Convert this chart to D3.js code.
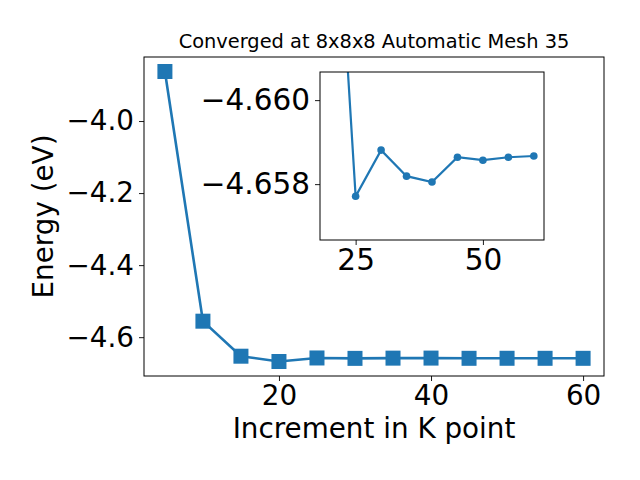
<!DOCTYPE html>
<html>
<head>
<meta charset="utf-8">
<script src="https://cdn.jsdelivr.net/npm/d3@7"></script>
<style>
  body { margin: 0; background: #fff; }
  text { font-family: "DejaVu Sans", sans-serif; fill: #000; }
</style>
</head>
<body>
<svg id="chart" width="640" height="480"></svg>
<script>
// k-point increments and total energies (eV)
const kPoints = [5, 10, 15, 20, 25, 30, 35, 40, 45, 50, 55, 60];
const energies = [-3.8625, -4.5556, -4.6528, -4.6675, -4.65771, -4.65881,
                  -4.65819, -4.65805, -4.65864, -4.65857, -4.65864, -4.65867];
const xTicks = [20, 40, 60];
const yTicks = [-4.6, -4.4, -4.2, -4.0];
const insetXTicks = [25, 50];
const insetYTicks = [-4.660, -4.658];

const color = '#1f77b4';
const tickFont = '27.8px';
const insetFont = '29.5px';
const minus = s => s.replace('-', '\u2212');

const svg = d3.select('#chart');

// main axes
const m = { left: 144, right: 604, top: 57, bottom: 376 };
const x = d3.scaleLinear().domain([2.25, 62.75]).range([m.left, m.right]);
const y = d3.scaleLinear().domain([-4.70775, -3.82225]).range([m.bottom, m.top]);

svg.append('text')
    .attr('x', (m.left + m.right) / 2)
    .attr('y', 47.5)
    .attr('text-anchor', 'middle')
    .style('font-size', '19.4px')
    .text('Converged at 8x8x8 Automatic Mesh 35');

const line = d3.line().x(d => x(d[0])).y(d => y(d[1]));
const pts = kPoints.map((k, i) => [k, energies[i]]);

svg.append('path')
    .datum(pts)
    .attr('d', line)
    .attr('fill', 'none')
    .attr('stroke', color)
    .attr('stroke-width', 2.6);

svg.append('g').selectAll('rect')
    .data(pts)
    .enter()
    .append('rect')
    .attr('x', d => x(d[0]) - 7.5)
    .attr('y', d => y(d[1]) - 7.5)
    .attr('width', 15)
    .attr('height', 15)
    .attr('fill', color);

svg.append('rect')
    .attr('x', m.left).attr('y', m.top)
    .attr('width', m.right - m.left).attr('height', m.bottom - m.top)
    .attr('fill', 'none').attr('stroke', '#000').attr('stroke-width', 1);

const xAxis = svg.append('g')
    .attr('transform', `translate(0,${m.bottom})`)
    .call(d3.axisBottom(x).tickValues(xTicks).tickSize(5).tickPadding(4).tickFormat(d3.format('d')));
const yAxis = svg.append('g')
    .attr('transform', `translate(${m.left},0)`)
    .call(d3.axisLeft(y).tickValues(yTicks).tickSize(5).tickPadding(5).tickFormat(d => minus(d3.format('.1f')(d))));

[xAxis, yAxis].forEach(g => {
    g.select('.domain').remove();
    g.selectAll('line').attr('stroke', '#000').attr('stroke-width', 0.9);
    g.selectAll('text').style('font-size', tickFont).style('font-family', '"DejaVu Sans", sans-serif').attr('fill', '#000');
});

svg.append('text')
    .attr('x', (m.left + m.right) / 2)
    .attr('y', 438)
    .attr('text-anchor', 'middle')
    .style('font-size', '27.8px')
    .text('Increment in K point');

svg.append('text')
    .attr('transform', `translate(52.5,${(m.top + m.bottom) / 2}) rotate(-90)`)
    .attr('text-anchor', 'middle')
    .style('font-size', '27.8px')
    .text('Energy (eV)');

// inset (y axis inverted)
const n = { left: 320, right: 544, top: 72, bottom: 240 };
const ix = d3.scaleLinear().domain([18, 62]).range([n.left, n.right]);
const iy = d3.scaleLinear().domain([-4.66067, -4.65667]).range([n.top, n.bottom]);
const insetPts = pts.filter(d => d[0] >= 20);

svg.append('rect')
    .attr('x', n.left).attr('y', n.top)
    .attr('width', n.right - n.left).attr('height', n.bottom - n.top)
    .attr('fill', '#fff');

svg.append('clipPath').attr('id', 'insetClip')
    .append('rect')
    .attr('x', n.left).attr('y', n.top)
    .attr('width', n.right - n.left).attr('height', n.bottom - n.top);

const inset = svg.append('g').attr('clip-path', 'url(#insetClip)');

inset.append('path')
    .datum(insetPts)
    .attr('d', d3.line().x(d => ix(d[0])).y(d => iy(d[1])))
    .attr('fill', 'none')
    .attr('stroke', color)
    .attr('stroke-width', 2.2);

inset.selectAll('circle')
    .data(insetPts)
    .enter()
    .append('circle')
    .attr('cx', d => ix(d[0]))
    .attr('cy', d => iy(d[1]))
    .attr('r', 3.8)
    .attr('fill', color);

svg.append('rect')
    .attr('x', n.left).attr('y', n.top)
    .attr('width', n.right - n.left).attr('height', n.bottom - n.top)
    .attr('fill', 'none').attr('stroke', '#000').attr('stroke-width', 1);

const ixAxis = svg.append('g')
    .attr('transform', `translate(0,${n.bottom})`)
    .call(d3.axisBottom(ix).tickValues(insetXTicks).tickSize(5).tickPadding(4).tickFormat(d3.format('d')));
const iyAxis = svg.append('g')
    .attr('transform', `translate(${n.left},0)`)
    .call(d3.axisLeft(iy).tickValues(insetYTicks).tickSize(5).tickPadding(5).tickFormat(d => minus(d3.format('.3f')(d))));

[ixAxis, iyAxis].forEach(g => {
    g.select('.domain').remove();
    g.selectAll('line').attr('stroke', '#000').attr('stroke-width', 0.9);
    g.selectAll('text').style('font-size', insetFont).style('font-family', '"DejaVu Sans", sans-serif').attr('fill', '#000');
});
</script>
</body>
</html>
